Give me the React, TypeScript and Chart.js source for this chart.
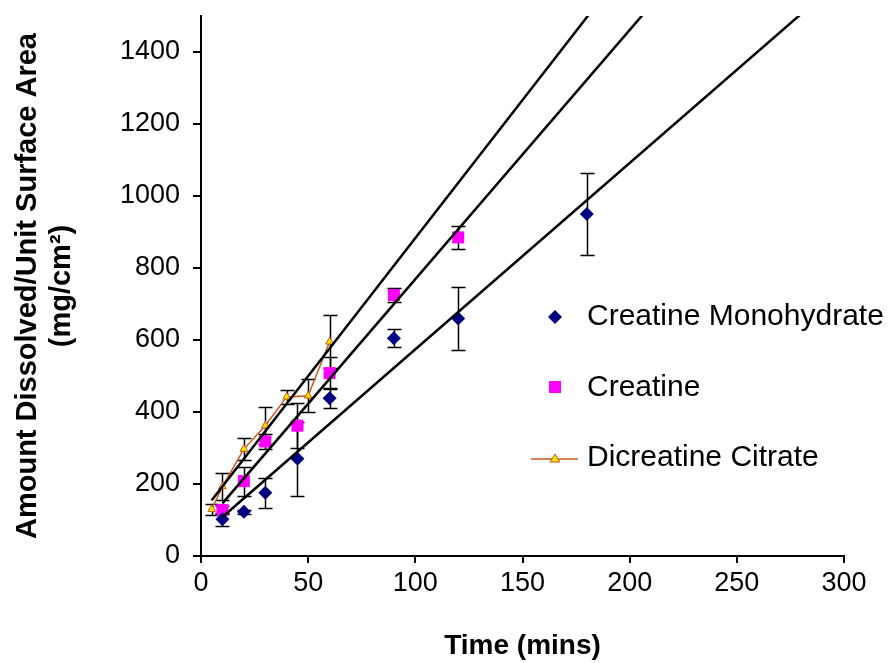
import React, { useEffect, useRef } from 'react';
import { Chart, registerables } from 'chart.js';

Chart.register(...registerables);

// ---- Data ----
const seriesNames = ['Creatine Monohydrate', 'Creatine', 'Dicreatine Citrate'];

const timeCM = [10, 20, 30, 45, 60, 90, 120, 180];
const valueCM = [102, 123, 176, 270, 438, 605, 660, 950];
const errorCM = [18, 6, 42, 103, 28, 25, 87, 113];

const timeCr = [10, 20, 30, 45, 60, 90, 120];
const valueCr = [128, 208, 318, 362, 508, 725, 885];
const errorCr = [10, 40, 20, 63, 45, 20, 32];

const timeDC = [5, 10, 20, 30, 40, 50, 60];
const valueDC = [130, 193, 297, 362, 442, 445, 595];
const errorDC = [15, 37, 30, 52, 20, 46, 74];

const xMin = 0;
const xMax = 300;
const xStep = 50;
const yMin = 0;
const yMax = 1500;
const yStep = 200;

const xTitle = 'Time (mins)';
const yTitle = ['Amount Dissolved/Unit Surface Area', '(mg/cm²)'];

const FONT = '"Liberation Sans", Arial, Helvetica, sans-serif';

function pts(xs: number[], ys: number[]) {
  return xs.map((x, i) => ({ x, y: ys[i] }));
}

// Linear least-squares trendline (as in the spreadsheet), from first x to axis max
function trend(xs: number[], ys: number[]) {
  const n = xs.length;
  const mx = xs.reduce((a, b) => a + b, 0) / n;
  const my = ys.reduce((a, b) => a + b, 0) / n;
  let sxy = 0;
  let sxx = 0;
  for (let i = 0; i < n; i++) {
    sxy += (xs[i] - mx) * (ys[i] - my);
    sxx += (xs[i] - mx) * (xs[i] - mx);
  }
  const m = sxy / sxx;
  const b = my - m * mx;
  const x0 = xs[0];
  return [
    { x: x0, y: m * x0 + b },
    { x: xMax, y: m * xMax + b },
  ];
}

const errorBarPlugin = {
  id: 'errorBars',
  beforeDatasetsDraw(chart: any) {
    const { ctx, scales } = chart;
    const xs = scales.x;
    const ys = scales.y;
    ctx.save();
    ctx.strokeStyle = '#000';
    ctx.lineWidth = 1.5;
    chart.data.datasets.forEach((ds: any) => {
      const errs: number[] | undefined = ds.errors;
      if (!errs) return;
      ds.data.forEach((p: any, j: number) => {
        const px = Math.round(xs.getPixelForValue(p.x)) + 0.5;
        const top = Math.round(ys.getPixelForValue(p.y + errs[j])) + 0.5;
        const bot = Math.round(ys.getPixelForValue(p.y - errs[j])) + 0.5;
        ctx.beginPath();
        ctx.moveTo(px, top);
        ctx.lineTo(px, bot);
        ctx.moveTo(px - 7, top);
        ctx.lineTo(px + 7, top);
        ctx.moveTo(px - 7, bot);
        ctx.lineTo(px + 7, bot);
        ctx.stroke();
      });
    });
    ctx.restore();
  },
};

const legendPlugin = {
  id: 'insideLegend',
  afterDraw(chart: any) {
    const ctx = chart.ctx;
    const ds = chart.data.datasets;
    ctx.save();
    ctx.font = `30px ${FONT}`;
    ctx.fillStyle = '#000';
    ctx.textBaseline = 'alphabetic';
    ctx.textAlign = 'left';
    const mx = 555;
    const tx = 587;

    // Creatine Monohydrate: diamond
    let cy = 317;
    ctx.fillStyle = ds[0].backgroundColor;
    ctx.beginPath();
    ctx.moveTo(mx, cy - 7);
    ctx.lineTo(mx + 7, cy);
    ctx.lineTo(mx, cy + 7);
    ctx.lineTo(mx - 7, cy);
    ctx.closePath();
    ctx.fill();
    ctx.fillStyle = '#000';
    ctx.fillText(seriesNames[0], tx, 325);

    // Creatine: square
    cy = 387;
    ctx.fillStyle = ds[1].backgroundColor;
    ctx.fillRect(mx - 6, cy - 6, 12, 12);
    ctx.fillStyle = '#000';
    ctx.fillText(seriesNames[1], tx, 396);

    // Dicreatine Citrate: line + triangle
    cy = 459;
    ctx.strokeStyle = ds[2].borderColor;
    ctx.lineWidth = 1.5;
    ctx.beginPath();
    ctx.moveTo(531, cy);
    ctx.lineTo(578, cy);
    ctx.stroke();
    ctx.fillStyle = ds[2].pointBackgroundColor;
    ctx.beginPath();
    ctx.moveTo(mx, cy - 5);
    ctx.lineTo(mx + 5, cy + 3);
    ctx.lineTo(mx - 5, cy + 3);
    ctx.closePath();
    ctx.fill();
    ctx.lineWidth = 1;
    ctx.stroke();
    ctx.fillStyle = '#000';
    ctx.fillText(seriesNames[2], tx, 466);
    ctx.restore();
  },
};

export default function App() {
  const ref = useRef<HTMLCanvasElement>(null);

  useEffect(() => {
    if (!ref.current) return;
    Chart.defaults.font.family = FONT;
    const chart = new Chart(ref.current, {
      type: 'scatter',
      data: {
        datasets: [
          {
            label: seriesNames[0],
            data: pts(timeCM, valueCM),
            errors: errorCM,
            backgroundColor: '#000080',
            borderColor: '#000080',
            pointStyle: 'rectRot',
            pointRadius: 7,
            pointBorderWidth: 0,
            showLine: false,
            order: 1,
          } as any,
          {
            label: seriesNames[1],
            data: pts(timeCr, valueCr),
            errors: errorCr,
            backgroundColor: '#FF00FF',
            borderColor: '#FF00FF',
            pointStyle: 'rect',
            pointRadius: 8.5,
            pointBorderWidth: 0,
            showLine: false,
            order: 1,
          } as any,
          {
            label: seriesNames[2],
            data: pts(timeDC, valueDC),
            errors: errorDC,
            borderColor: '#C45A1E',
            borderWidth: 1.5,
            showLine: true,
            pointStyle: 'triangle',
            pointRadius: 4.5,
            pointBackgroundColor: '#FFE000',
            pointBorderColor: '#C45A1E',
            pointBorderWidth: 1,
            order: 2,
          } as any,
          {
            label: 'trend CM',
            data: trend(timeCM, valueCM),
            showLine: true,
            borderColor: '#000',
            borderWidth: 2.5,
            pointRadius: 0,
            order: 0,
          },
          {
            label: 'trend Cr',
            data: trend(timeCr, valueCr),
            showLine: true,
            borderColor: '#000',
            borderWidth: 2.5,
            pointRadius: 0,
            order: 0,
          },
          {
            label: 'trend DC',
            data: trend(timeDC, valueDC),
            showLine: true,
            borderColor: '#000',
            borderWidth: 2.5,
            pointRadius: 0,
            order: 0,
          },
        ],
      },
      options: {
        responsive: false,
        animation: false,
        events: [],
        layout: { padding: { left: 0, top: 16, right: 52, bottom: 0 } },
        plugins: {
          legend: { display: false },
          tooltip: { enabled: false },
        },
        scales: {
          x: {
            type: 'linear',
            min: xMin,
            max: xMax,
            ticks: {
              stepSize: xStep,
              color: '#000',
              font: { size: 27, family: FONT },
              padding: 4,
              maxRotation: 0,
              callback: (v: any) => String(v),
            },
            grid: {
              drawOnChartArea: false,
              drawTicks: true,
              tickLength: 7,
              color: '#000',
              lineWidth: 2,
            },
            border: { display: true, color: '#000', width: 2 },
            title: {
              display: true,
              text: xTitle,
              color: '#000',
              font: { size: 28, weight: 'bold', family: FONT, lineHeight: 1.2 },
              padding: 0,
            },
            afterFit(scale: any) {
              scale.height = 107;
              scale.paddingTop = 0;
            },
          },
          y: {
            type: 'linear',
            min: yMin,
            max: yMax,
            ticks: {
              stepSize: yStep,
              color: '#000',
              font: { size: 27, family: FONT },
              padding: 13,
              callback: (v: any) => String(v),
            },
            afterBuildTicks(scale: any) {
              scale.ticks = scale.ticks.filter((t: any) => t.value % yStep === 0);
            },
            grid: {
              drawOnChartArea: false,
              drawTicks: true,
              tickLength: 8,
              color: '#000',
              lineWidth: 2,
            },
            border: { display: true, color: '#000', width: 2 },
            title: {
              display: true,
              text: yTitle,
              color: '#000',
              font: { size: 29, weight: 'bold', family: FONT, lineHeight: 1.17 },
              padding: { top: 11, bottom: 0 },
            },
            afterFit(scale: any) {
              scale.width = 201;
              scale.paddingTop = 0;
              scale.paddingBottom = 0;
            },
          },
        },
      } as any,
      plugins: [errorBarPlugin, legendPlugin],
    });
    return () => chart.destroy();
  }, []);

  return (
    <div style={{ position: 'absolute', left: 0, top: 0, width: 896, height: 663, background: '#fff' }}>
      <canvas ref={ref} width={896} height={663} style={{ display: 'block' }} />
    </div>
  );
}
